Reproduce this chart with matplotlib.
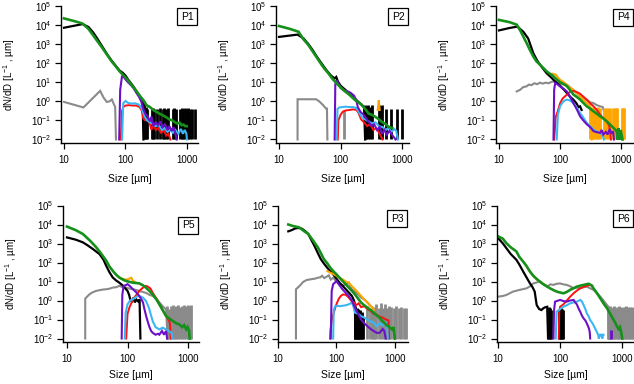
import numpy as np
import matplotlib
matplotlib.use('Agg')
import matplotlib.pyplot as plt

plt.rcParams['font.family'] = 'Liberation Sans'
plt.rcParams['mathtext.fontset'] = 'custom'
plt.rcParams['mathtext.rm'] = 'Liberation Sans'
plt.rcParams['mathtext.it'] = 'Liberation Sans:italic'
plt.rcParams['mathtext.default'] = 'regular'

# values: (size in um, log10 of dN/dD)
# -2 means the trace drops to the bottom of the axis (1e-2)

# ---------------- P1 ----------------
p1_gray = [(10, -0.03), (20.7, -0.32), (28, 0.1), (38.7, 0.55), (44, 0.2), (49.6, -0.03),
           (55, 0.0), (60, 0.1), (68, -0.3), (70, -2)]
p1_black = [(10, 3.86), (20, 4.05), (25, 3.9), (30, 3.6), (35, 3.28), (40, 2.98), (45, 2.72),
            (50, 2.48), (60, 2.12), (70, 1.85), (80, 1.62), (90, 1.5), (100, 1.35), (110, 1.15),
            (125, 0.92), (140, 0.7), (155, 0.45), (175, 0.22), (190, 0.06), (196, -2)]
p1_black_bar_d = [200, 207, 215, 222, 268, 280, 293, 324, 363, 405, 420, 452, 490, 584, 610, 661,
                  770, 828, 860, 935, 1000, 1060, 1110, 1200, 1350]
p1_black_bar_v = [0.0, -0.35, -0.3, -0.38, -0.38, -0.35, -0.38, -0.38, -0.35, -0.38, -0.35, -0.38,
                  -0.35, -0.38, -0.35, -0.38, -0.38, -0.35, -0.38, -0.35, -0.38, -0.35, -0.38,
                  -0.38, -0.38]
p1_red = [(84, -2), (88, -0.5), (92, -0.3), (100, -0.22), (115, -0.2), (130, -0.22), (150, -0.22),
          (170, -0.3), (185, -0.5), (195, -0.9), (210, -1.0), (230, -0.95), (250, -1.2),
          (265, -1.5), (285, -1.2), (310, -1.5), (340, -1.4), (380, -1.65), (420, -1.5),
          (460, -1.8), (500, -1.7), (540, -2)]
p1_blue = [(88, -2), (92, -0.1), (100, 0.02), (110, -0.08), (125, -0.12), (140, -0.1),
           (160, -0.15), (175, -0.25), (190, -0.5), (205, -0.8), (225, -1.0), (250, -1.1),
           (280, -1.2), (310, -1.3), (350, -1.25), (390, -1.5), (430, -1.4), (480, -1.6),
           (530, -1.5), (590, -1.65), (650, -1.5), (720, -1.7), (800, -1.45), (860, -1.7),
           (920, -1.5), (980, -1.7), (1000, -2)]
p1_purple = [(79, -2), (82, 0.6), (88, 1.35), (95, 1.25), (100, 1.15), (110, 1.0), (120, 0.88),
             (135, 0.7), (150, 0.45), (165, 0.25), (180, 0.0), (195, -0.4), (210, -0.65),
             (230, -0.8), (250, -1.05), (265, -0.8), (285, -1.3), (310, -1.1), (340, -1.25),
             (370, -1.05), (400, -1.35), (440, -1.2), (480, -1.5), (520, -1.3), (560, -1.55),
             (600, -1.35), (640, -1.6), (680, -2)]
p1_green = [(10, 4.35), (15, 4.2), (20, 4.08), (25, 3.8), (30, 3.45), (35, 3.15), (40, 2.9),
            (50, 2.45), (60, 2.08), (70, 1.82), (80, 1.58), (90, 1.4), (100, 1.25), (120, 0.95),
            (135, 0.73), (150, 0.55), (175, 0.25), (196, 0.06), (220, -0.2), (250, -0.3),
            (285, -0.46), (320, -0.55), (360, -0.65), (400, -0.72), (470, -0.85), (520, -0.95),
            (580, -1.0), (640, -1.1), (690, -1.16), (760, -1.12), (820, -1.25), (880, -1.22),
            (935, -1.3), (990, -1.3)]

# ---------------- P2 ----------------
p2_gray = [(20, -2), (20, 0.11), (30, 0.11), (40, 0.11), (45, 0.0), (52, -0.2), (58, -0.38),
           (60, -0.38), (61, -2)]
p2_gray_bar_d = [112]
p2_gray_bar_v = [-0.45]
p2_black = [(10, 3.38), (15, 3.45), (20, 3.5), (25, 3.3), (30, 3.0), (35, 2.7), (40, 2.4),
            (50, 1.95), (60, 1.6), (70, 1.35), (80, 1.2), (85, 1.28), (90, 1.05), (100, 0.82),
            (110, 0.7), (120, 0.6), (135, 0.4), (150, 0.3), (170, 0.15), (190, 0.0), (215, -0.15),
            (240, -0.3), (250, -2)]
p2_black_bar_d = [252, 262, 278, 300, 325, 427, 445, 470, 550, 660, 830, 1000]
p2_black_bar_v = [-0.2, -0.25, -0.2, -0.3, -0.2, -0.2, -0.25, -0.2, -0.38, -0.38, -0.38, -0.38]
p2_orange = [(400, -0.45), (417, 0.05), (430, -0.45)]
p2_red = [(90, -2), (92, -1.0), (100, -0.7), (108, -0.55), (120, -0.48), (140, -0.45),
          (160, -0.42), (180, -0.45), (195, -0.6), (215, -0.95), (240, -1.1), (270, -1.3),
          (300, -1.2), (340, -1.5), (380, -1.4), (430, -1.7), (480, -2)]
p2_blue = [(86, -2), (89, -0.4), (95, -0.32), (105, -0.3), (120, -0.28), (140, -0.3),
           (160, -0.3), (180, -0.35), (200, -0.6), (225, -0.85), (250, -0.95), (285, -1.05),
           (320, -1.15), (370, -1.1), (420, -1.3), (480, -1.35), (540, -1.5), (600, -1.4),
           (670, -1.6), (740, -1.45), (800, -1.55), (850, -2)]
p2_purple = [(80, -2), (82, 0.9), (86, 1.1), (92, 0.95), (100, 0.7), (110, 0.6), (125, 0.55),
             (145, 0.45), (165, 0.3), (180, 0.05), (190, -0.3), (210, -0.55), (235, -0.7),
             (260, -0.9), (290, -1.1), (320, -1.3), (350, -1.2), (390, -1.5), (430, -1.35),
             (470, -1.7), (510, -1.5), (560, -1.75), (620, -1.55), (700, -1.8), (780, -2)]
p2_green = [(10, 3.95), (15, 3.8), (20.7, 3.65), (25, 3.25), (30, 2.95), (34, 2.69), (40, 2.35),
            (49.6, 1.9), (55, 1.7), (63.7, 1.46), (72, 1.22), (82, 1.02), (90, 0.88), (100, 0.73),
            (115, 0.55), (135, 0.38), (155, 0.2), (173, 0.06), (200, -0.08), (222, -0.2),
            (250, -0.4), (285, -0.64), (320, -0.7), (366, -0.81), (420, -0.95), (470, -1.08),
            (540, -1.2), (605, -1.34), (688, -1.4)]

# ---------------- P4 ----------------
p4_gray = [(19.5, 0.52), (22, 0.6), (25, 0.75), (28, 0.78), (31, 0.88), (34, 0.85), (38, 0.95),
           (42, 0.9), (47, 0.98), (52, 0.93), (58, 0.98), (65, 0.95), (72, 1.02), (78, 1.04),
           (85, 0.98), (95, 0.96), (110, 0.9), (130, 0.87), (150, 0.7), (165, 0.6), (185, 0.45),
           (212, 0.26), (240, 0.15), (273, 0.09), (310, -0.05), (352, -0.09), (400, -0.2),
           (452, -0.26), (500, -0.3), (520, -0.5)]
p4_black = [(10, 3.72), (15, 3.85), (20, 3.92), (25, 3.65), (30, 3.3), (36.5, 2.52), (42, 2.15),
            (47, 1.92), (53, 1.7), (60, 1.48), (70, 1.28), (78, 1.13), (90, 0.95), (100, 0.82),
            (115, 0.62), (129, 0.44), (145, 0.25), (165, 0.09), (185, -0.1), (200, -0.3),
            (212, -0.26), (225, -0.45)]
p4_orange = [(75, 1.45), (85, 1.4), (95, 1.2), (100, 1.13), (115, 1.0), (129, 0.87), (145, 0.72),
             (165, 0.6), (190, 0.42), (212, 0.26), (240, 0.1), (273, -0.09), (300, -0.2),
             (320, -0.35), (330, -2)]
p4_orange_bar_d = [310, 330, 350, 370, 395, 420, 450, 520, 560, 600, 650, 740, 780, 820, 860,
                   1030, 1080, 1130]
p4_orange_bar_v = [-0.35, -0.35, -0.3, -0.35, -0.35, -0.3, -0.35, -0.35, -0.35, -0.35, -0.35,
                   -0.35, -0.35, -0.35, -0.35, -0.35, -0.35, -0.35]
p4_red = [(80, -2), (85, -0.8), (92, -0.5), (100, -0.1), (110, 0.15), (129, 0.35), (145, 0.5),
          (165, 0.55), (190, 0.48), (212, 0.4), (240, 0.25), (273, 0.09), (310, -0.1),
          (352, -0.26), (400, -0.45), (452, -0.7), (500, -0.85), (580, -1.05), (640, -1.3),
          (680, -2)]
p4_blue = [(88, -2), (92, -0.7), (100, -0.26), (110, -0.05), (120, 0.05), (129, 0.09),
           (145, 0.05), (165, -0.09), (190, -0.35), (212, -0.61), (240, -0.85), (273, -1.13),
           (310, -1.3), (352, -1.48), (400, -1.58), (452, -1.65), (500, -1.8), (520, -2)]
p4_purple = [(78, -2), (80, 0.6), (83, 0.96), (90, 0.9), (100, 0.78), (115, 0.65), (129, 0.52),
             (145, 0.25), (165, -0.09), (190, -0.45), (212, -0.78), (240, -1.0), (273, -1.2),
             (310, -1.35), (352, -1.56), (400, -1.62), (452, -1.65), (480, -1.5), (510, -1.74),
             (560, -1.6), (600, -1.74), (650, -1.45), (700, -1.7), (740, -1.56), (760, -2)]
p4_green = [(10, 4.27), (15, 4.15), (19.5, 4.02), (22, 3.75), (25, 3.4), (28.4, 3.05), (32, 2.7),
            (36.5, 2.35), (41, 2.1), (47, 1.92), (53, 1.75), (60.5, 1.57), (70, 1.42), (78, 1.31),
            (88, 1.15), (100, 1.0), (115, 0.9), (129, 0.8), (145, 0.6), (165, 0.36), (190, 0.22),
            (212, 0.1), (240, -0.08), (273, -0.26), (310, -0.38), (352, -0.52), (400, -0.65),
            (452, -0.78), (510, -0.9), (580, -1.05), (650, -1.2), (750, -1.4), (810, -1.5),
            (850, -1.6), (870, -2), (900, -1.4), (950, -2), (980, -1.5), (1050, -2)]

# ---------------- P5 ----------------
p5_gray = [(20, -2), (20, 0.1), (23, 0.3), (26, 0.42), (30, 0.5), (35, 0.55), (40, 0.58),
           (44, 0.59), (50, 0.62), (57, 0.68), (65, 0.7), (73, 0.77), (80, 0.72), (94, 0.68),
           (110, 0.62), (122, 0.6), (140, 0.55), (156, 0.5), (180, 0.45), (202, 0.4), (230, 0.3),
           (260, 0.24), (300, 0.1), (335, -0.1), (380, -0.3), (433, -0.47), (460, -2)]
p5_gray_bar_d = [450, 480, 520, 560, 600, 640, 690, 740, 800, 860, 930, 1000, 1060, 1110]
p5_gray_bar_v = [-0.3, -0.45, -0.3, -0.25, -0.35, -0.3, -0.25, -0.35, -0.3, -0.25, -0.3, -0.25,
                 -0.3, -0.25]
p5_black = [(10, 3.32), (14, 3.2), (18.3, 3.06), (22, 2.9), (27, 2.7), (34.5, 2.44), (40, 2.15),
            (44.5, 1.82), (50, 1.5), (57, 1.21), (65, 1.05), (73, 0.94), (84, 0.78), (94, 0.6),
            (100, 0.5), (106, 0.3), (112, 0.0), (118, -0.05), (125, 0.15), (132, -0.1),
            (140, 0.05), (150, -0.05), (158, 0.05), (163, -2)]
p5_orange = [(73, 1.21), (84, 1.12), (95, 1.1), (107, 1.15), (115, 1.2), (122, 1.05), (135, 0.95)]
p5_red = [(95, -2), (100, -0.7), (107, -0.38), (115, -0.15), (122, 0.06), (140, 0.3), (156, 0.5),
          (180, 0.68), (202, 0.77), (220, 0.72), (240, 0.62), (260, 0.41), (300, 0.1),
          (335, -0.2), (380, -0.5), (433, -0.82), (470, -1.0), (500, -1.17), (520, -2)]
p5_blue = [(90, -2), (93, -0.65), (100, -0.2), (110, 0.0), (122, 0.06), (140, 0.2), (156, 0.24),
           (180, 0.15), (202, -0.03), (225, -0.38), (245, -0.8), (260, -1.08), (290, -1.4),
           (335, -1.52), (380, -1.43), (433, -1.52), (480, -1.6), (530, -1.7), (550, -2)]
p5_purple = [(80, -2), (82, 0.3), (86, 0.77), (95, 0.82), (100, 0.86), (110, 0.75), (122, 0.6),
             (140, 0.42), (156, 0.24), (170, 0.05), (180, -0.1), (190, -0.45), (202, -0.8),
             (215, -1.1), (230, -1.4), (245, -1.6), (260, -1.7), (290, -1.8), (320, -1.75),
             (335, -1.8), (370, -1.6), (400, -1.8), (433, -1.6), (450, -2)]
p5_green = [(10, 3.89), (14, 3.7), (18.3, 3.5), (24, 3.15), (30.4, 2.8), (37, 2.45), (44.5, 2.09),
            (50, 1.8), (57, 1.56), (65, 1.35), (73, 1.21), (84, 1.1), (94, 1.03), (108, 0.98),
            (122, 0.94), (140, 0.92), (156, 0.9), (180, 0.8), (202, 0.67), (230, 0.5), (260, 0.32),
            (300, 0.05), (335, -0.2), (380, -0.5), (433, -0.82), (490, -0.95), (558, -1.08),
            (640, -1.2), (720, -1.26), (800, -1.4), (860, -1.3), (930, -1.52), (980, -1.4),
            (1040, -1.6), (1060, -2)]

# ---------------- P3 ----------------
p3_gray = [(20.3, -2), (20.3, 0.59), (24, 0.8), (27, 0.98), (31, 1.08), (37, 1.12), (43, 1.15),
           (48, 1.2), (53, 1.22), (57, 1.3), (62, 1.18), (68, 1.25), (74, 1.33), (80, 1.1),
           (88, 1.2), (100, 1.0), (113, 0.85), (127, 0.78), (145, 0.85), (163, 0.94), (175, 0.7),
           (184, 0.59), (210, 0.45), (235, 0.32), (265, 0.15), (300, 0.06), (340, -0.1),
           (385, -0.29), (420, -0.38), (440, -2)]
p3_gray_bar_d = [340, 370, 400, 440, 480, 530, 580, 620, 680, 740, 800, 870, 950, 1050, 1180,
                 1300, 1450, 1580]
p3_gray_bar_v = [-0.3, -0.45, -0.38, -0.35, -0.2, -0.38, -0.15, -0.38, -0.2, -0.38, -0.3, -0.35,
                 -0.38, -0.3, -0.38, -0.35, -0.38, -0.4]
p3_black = [(15, 3.64), (17, 3.7), (20, 3.8), (23, 3.82), (26, 3.77), (30, 3.62), (33, 3.5),
            (37, 3.2), (42, 2.88), (48, 2.5), (54, 2.18), (61, 1.95), (69, 1.74), (78, 1.55),
            (88, 1.38), (100, 1.15), (113, 0.94), (127, 0.78), (144, 0.6), (163, 0.42),
            (184, 0.24), (200, 0.0), (208, -0.2), (210, -2)]
p3_black_bar_d = [210, 215, 222, 230, 238, 246, 255, 265, 275, 285]
p3_black_bar_v = [-0.3, -0.5, -0.4, -0.6, -0.45, -0.7, -0.5, -0.8, -0.6, -0.9]
p3_orange = [(70, 1.55), (78, 1.47), (88, 1.4), (100, 1.3), (113, 1.2), (127, 1.12), (145, 1.0),
             (163, 0.94), (184, 0.75), (208, 0.59), (235, 0.42), (265, 0.24), (300, 0.05),
             (340, -0.11), (385, -0.3), (420, -0.38), (440, -0.5)]
p3_red = [(78, -2), (79, -1.6), (84, -1.0), (92, -0.55), (100, -0.2), (110, 0.1), (120, 0.25),
          (130, 0.32), (145, 0.3), (163, 0.15), (184, -0.05), (200, -0.1), (215, -0.25),
          (240, -0.15), (265, -0.35), (300, -0.3), (340, -0.45), (385, -0.55), (433, -0.7),
          (490, -0.75), (550, -0.85), (620, -0.9), (700, -1.0), (780, -1.05), (800, -2)]
p3_blue = [(88, -2), (90, -0.5), (95, -0.3), (105, -0.28), (113, -0.3), (127, -0.28),
           (144, -0.25), (163, -0.2), (184, -0.11), (195, -0.3), (208, -0.64), (235, -0.7),
           (265, -0.82), (300, -0.9), (340, -1.0), (385, -1.1), (433, -1.17), (490, -1.35),
           (550, -1.2), (620, -1.3), (705, -1.17), (750, -1.5), (760, -2)]
p3_purple = [(80, -2), (83, 0.5), (88, 0.86), (95, 0.95), (100, 1.03), (113, 0.8), (127, 0.59),
             (145, 0.4), (163, 0.24), (184, 0.0), (208, -0.38), (235, -0.7), (265, -1.0),
             (300, -1.2), (340, -1.35), (385, -1.5), (433, -1.6), (490, -1.7), (550, -1.7),
             (620, -1.5), (660, -1.6), (700, -2)]
p3_green = [(15, 4.0), (18, 3.92), (23, 3.85), (28, 3.65), (33, 3.5), (40, 3.15), (48, 2.8),
            (54, 2.5), (61, 2.18), (70, 1.95), (78, 1.74), (88, 1.55), (100, 1.38), (113, 1.2),
            (127, 1.03), (145, 0.85), (163, 0.68), (185, 0.5), (208, 0.32), (235, 0.1),
            (265, -0.11), (300, -0.25), (340, -0.38), (385, -0.5), (433, -0.64), (490, -0.78),
            (550, -0.91), (620, -1.1), (705, -1.26), (800, -1.4), (900, -1.52), (950, -1.4),
            (1000, -2)]

# ---------------- P6 ----------------
p6_gray = [(10, 0.2), (12, 0.24), (13.6, 0.29), (17.5, 0.47), (22.4, 0.56), (28.8, 0.64),
           (33, 0.75), (37, 0.9), (42, 0.95), (47.4, 1.0), (54, 0.85), (61, 0.73), (70, 0.85),
           (78, 0.82), (88, 0.88), (100, 0.9), (113, 0.85), (128, 0.82), (145, 0.75),
           (165, 0.64), (186, 0.68), (211, 0.64), (240, 0.7), (270, 0.73), (300, 0.65),
           (345, 0.56), (390, 0.4), (445, 0.2), (500, 0.0), (570, -0.24), (600, -0.33), (620, -2)]
p6_gray_bar_d = [580, 610, 640, 670, 700, 740, 780, 820, 860, 900, 950, 1000, 1050, 1100, 1160,
                 1220, 1290, 1360, 1430, 1500, 1580]
p6_gray_bar_v = [-0.3, -0.35, -0.3, -0.4, -0.35, -0.3, -0.35, -0.4, -0.35, -0.3, -0.35, -0.4,
                 -0.35, -0.35, -0.3, -0.35, -0.4, -0.35, -0.35, -0.4, -0.35]
p6_black = [(10, 3.29), (12, 3.0), (13.6, 2.76), (16, 2.45), (19.8, 2.14), (22, 1.9),
            (25.4, 1.53), (29, 1.2), (32.6, 0.91), (36, 0.7), (39, 0.47), (40.5, 0.1),
            (42, -0.24), (46, -0.45), (50, -0.5), (53.6, -0.41), (58, -0.35), (62, -0.33),
            (64, -2)]
p6_black_bar_d = [66, 69, 72, 95, 100, 104, 108, 112]
p6_black_bar_v = [-0.35, -0.4, -0.5, -0.5, -0.4, -0.4, -0.45, -0.5]
p6_orange = [(30, 1.7), (33, 1.5), (37, 1.3), (42, 1.12), (47, 0.98), (54, 0.86), (61, 0.76)]
p6_red = [(95, -2), (97, -0.6), (100, -0.33), (113, -0.2), (128, 0.0), (145, 0.2), (165, 0.38),
          (186, 0.52), (211, 0.64), (239, 0.72), (270, 0.77), (305, 0.82), (330, 0.78)]
p6_blue = [(85, -2), (88, -0.59), (100, -0.45), (113, -0.33), (128, -0.25), (145, -0.15),
           (165, -0.1), (186, -0.06), (211, 0.03), (225, -0.05), (239, -0.24), (255, -0.45),
           (270, -0.68), (290, -0.85), (305, -1.03), (325, -1.15), (345, -1.3), (370, -1.5),
           (390, -1.65), (410, -1.8), (420, -2), (440, -1.8), (460, -1.8), (480, -2), (490, -1.8),
           (500, -1.8)]
p6_purple = [(78, -2), (80, -0.5), (83, -0.06), (90, -0.02), (100, 0.03), (113, -0.03),
             (128, -0.06), (145, 0.0), (165, 0.03), (175, -0.1), (186, -0.2), (200, -0.45),
             (211, -0.59), (225, -0.8), (239, -0.94), (255, -1.05), (270, -1.21), (290, -1.45),
             (300, -1.65), (305, -2)]
p6_purple_bar_d = [650]
p6_purple_bar_v = [-1.53]
p6_green = [(10, 3.38), (12, 3.25), (13.6, 3.02), (16, 2.8), (19.8, 2.58), (22, 2.3), (25.4, 2.05),
            (29, 1.8), (32.6, 1.53), (37, 1.3), (41.8, 1.14), (47, 1.0), (53.6, 0.86), (61, 0.75),
            (69, 0.64), (78, 0.55), (88, 0.47), (100, 0.42), (113, 0.38), (128, 0.45), (145, 0.56),
            (165, 0.65), (186, 0.73), (211, 0.78), (239, 0.82), (270, 0.86), (289, 0.88),
            (320, 0.8), (345, 0.64), (390, 0.4), (445, 0.11), (500, -0.15), (570, -0.41),
            (640, -0.7), (730, -1.03), (780, -1.2), (830, -1.38), (870, -1.5), (920, -1.4),
            (960, -1.65), (1000, -2)]

# style
colors = {'gray': '#8a8a8a', 'black': '#000000', 'orange': '#ffa500', 'red': '#ff1010',
          'blue': '#3cb6f2', 'purple': '#6c10c8', 'green': '#15901a'}
widths = {'gray': 1.5, 'black': 1.6, 'orange': 1.5, 'red': 1.4, 'blue': 1.5, 'purple': 1.5,
          'green': 1.9}
order = ['gray', 'black', 'orange', 'red', 'blue', 'purple', 'green']

W, H = 634, 384
# label, (left, top, right, bottom) in px, log10 x-limits, px drop of the P-box, lines, bars
panels = [
    ('P1', (61, 6, 198, 142.5), (0.951, 3.18), 2,
     {'gray': p1_gray, 'black': p1_black, 'red': p1_red, 'blue': p1_blue,
      'purple': p1_purple, 'green': p1_green},
     {'black': (p1_black_bar_d, p1_black_bar_v)}),
    ('P2', (276, 6, 409, 142.5), (0.951, 3.11), 2,
     {'gray': p2_gray, 'black': p2_black, 'orange': p2_orange, 'red': p2_red, 'blue': p2_blue,
      'purple': p2_purple, 'green': p2_green},
     {'gray': (p2_gray_bar_d, p2_gray_bar_v), 'black': (p2_black_bar_d, p2_black_bar_v)}),
    ('P4', (496, 6, 634, 142.5), (0.951, 3.21), 3,
     {'gray': p4_gray, 'black': p4_black, 'orange': p4_orange, 'red': p4_red, 'blue': p4_blue,
      'purple': p4_purple, 'green': p4_green},
     {'orange': (p4_orange_bar_d, p4_orange_bar_v)}),
    ('P5', (63, 205.5, 199, 341.5), (0.934, 3.18), 11.5,
     {'gray': p5_gray, 'black': p5_black, 'orange': p5_orange, 'red': p5_red, 'blue': p5_blue,
      'purple': p5_purple, 'green': p5_green},
     {'gray': (p5_gray_bar_d, p5_gray_bar_v)}),
    ('P3', (278, 205.5, 408, 341.5), (1.129, 3.226), 4.5,
     {'gray': p3_gray, 'black': p3_black, 'orange': p3_orange, 'red': p3_red, 'blue': p3_blue,
      'purple': p3_purple, 'green': p3_green},
     {'gray': (p3_gray_bar_d, p3_gray_bar_v), 'black': (p3_black_bar_d, p3_black_bar_v)}),
    ('P6', (497, 205.5, 634, 341.5), (0.984, 3.19), 4.5,
     {'gray': p6_gray, 'black': p6_black, 'orange': p6_orange, 'red': p6_red, 'blue': p6_blue,
      'purple': p6_purple, 'green': p6_green},
     {'gray': (p6_gray_bar_d, p6_gray_bar_v), 'black': (p6_black_bar_d, p6_black_bar_v),
      'purple': (p6_purple_bar_d, p6_purple_bar_v)}),
]

fig = plt.figure(figsize=(W / 100, H / 100), dpi=100)

for label, (l, t, r, b), (xlo, xhi), boxdrop, lines, bars in panels:
    w, h = r - l, b - t
    ax = fig.add_axes([l / W, 1 - b / H, w / W, h / H])
    ax.set_xscale('log')
    ax.set_yscale('log')

    for key in order:
        if key in bars:
            d, v = bars[key]
            ax.vlines(d, 1e-2, 10 ** np.array(v), color=colors[key], lw=2.0)
        if key in lines:
            pts = np.array(lines[key])
            ax.plot(pts[:, 0], 10 ** pts[:, 1], color=colors[key], lw=widths[key],
                    solid_joinstyle='miter')

    ax.set_xlim(10 ** xlo, 10 ** xhi)
    ax.set_ylim(10 ** (-2 - 3 / 19.07), 1e5)

    for s in ['top', 'right']:
        ax.spines[s].set_visible(False)
    for s in ['left', 'bottom']:
        ax.spines[s].set_linewidth(1.0)

    ax.set_xticks([10, 100, 1000])
    ax.set_xticklabels(['10', '100', '1000'])
    yt = [1e-2, 1e-1, 1e0, 1e1, 1e2, 1e3, 1e4, 1e5]
    ax.set_yticks(yt)
    ax.set_yticklabels([r'$10^{%d}$' % e for e in range(-2, 6)])
    ax.minorticks_off()
    ax.tick_params(axis='both', direction='out', length=4.3, width=0.9, labelsize=7)
    ax.tick_params(axis='x', pad=4.5)
    ax.tick_params(axis='y', pad=2.5)

    ax.set_ylabel(r'dN/dD [L$^{-1}$ , µm]', fontsize=7)
    ax.yaxis.set_label_coords(-44 / w, 0.5)
    ax.set_xlabel('Size [µm]', fontsize=7.5)
    ax.xaxis.set_label_coords(0.5, -(31 if t < 100 else 28) / h)

    ax.text(1 - 4.5 / w, 1 - (boxdrop + 3.5) / h, label, transform=ax.transAxes,
            ha='right', va='top', fontsize=7.5,
            bbox=dict(boxstyle='square,pad=0.35', fc='white', ec='black', lw=0.9))

fig.savefig('out.png', dpi=100)
